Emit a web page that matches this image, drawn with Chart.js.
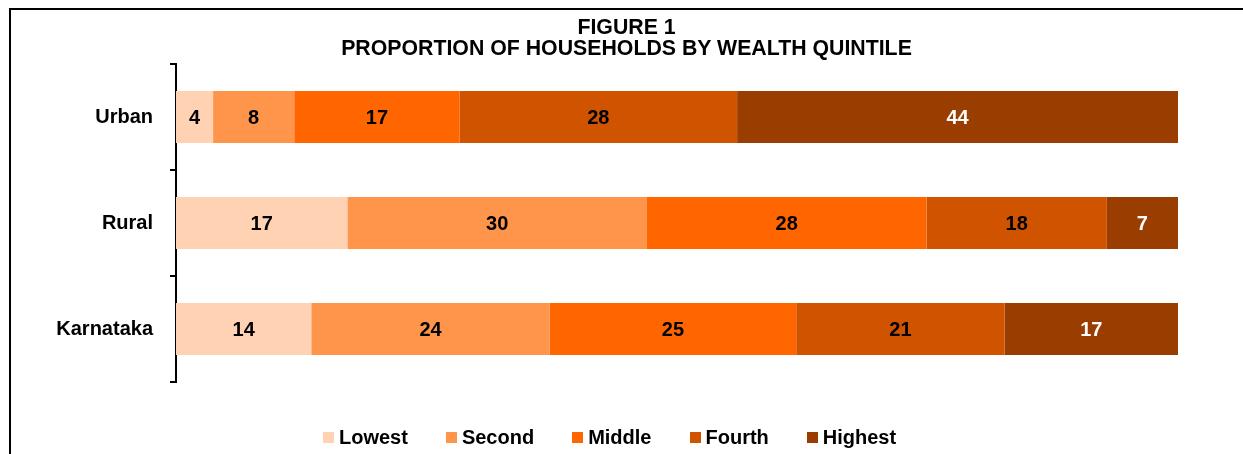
<!DOCTYPE html>
<html>
<head>
<meta charset="utf-8">
<script src="https://cdn.jsdelivr.net/npm/chart.js@4"></script>
<style>
  body { margin: 0; background: #fff; }
  #wrap { position: relative; width: 1243px; height: 454px; }
  #title {
    position: absolute; left: 10px; right: 0; top: 17px;
    text-align: center;
    font: bold 21.3px "Liberation Sans", Arial, sans-serif; color: #000;
    line-height: 21px;
  }
  #legend {
    position: absolute; left: 323px; top: 426px;
    display: flex; gap: 38px;
    font: bold 20px "Liberation Sans", Arial, sans-serif; color: #000;
  }
  .item { display: flex; align-items: center; }
  .box { width: 11px; height: 11px; margin-right: 5px; }
</style>
</head>
<body>
<div id="wrap">
  <canvas id="wealthChart" width="1243" height="454"></canvas>
  <div id="title">FIGURE 1<br>PROPORTION OF HOUSEHOLDS BY WEALTH QUINTILE</div>
  <div id="legend"></div>
</div>
<script>
const categories = ['Urban', 'Rural', 'Karnataka'];
const quintiles = ['Lowest', 'Second', 'Middle', 'Fourth', 'Highest'];

// percent of households, rows follow categories
const lowest  = [3.7, 17.1, 13.5];
const second  = [8.1, 29.9, 23.8];
const middle  = [16.5, 27.9, 24.6];
const fourth  = [27.7, 18.0, 20.8];
const highest = [44.0, 7.1, 17.3];

const colors = ['#FFD2B3', '#FF954A', '#FF6600', '#D05300', '#993D00'];
const labelColors = ['#000', '#000', '#000', '#000', '#fff'];

const FONT = '"Liberation Sans", Arial, sans-serif';
Chart.defaults.color = '#000';
Chart.defaults.font.family = FONT;

const series = [lowest, second, middle, fourth, highest];

// frame round the figure (top and left only)
const framePlugin = {
  id: 'frame',
  beforeDraw(chart) {
    const ctx = chart.ctx;
    ctx.save();
    ctx.strokeStyle = '#000';
    ctx.lineWidth = 2;
    ctx.beginPath();
    ctx.moveTo(10, 454);
    ctx.lineTo(10, 9);
    ctx.lineTo(1243, 9);
    ctx.stroke();
    ctx.restore();
  }
};

// rounded value in the middle of each segment
const valueLabels = {
  id: 'valueLabels',
  afterDatasetsDraw(chart) {
    const ctx = chart.ctx;
    ctx.save();
    ctx.font = 'bold 20px ' + FONT;
    ctx.textAlign = 'center';
    ctx.textBaseline = 'middle';
    chart.data.datasets.forEach((ds, i) => {
      const meta = chart.getDatasetMeta(i);
      ctx.fillStyle = labelColors[i];
      meta.data.forEach((bar, j) => {
        const p = bar.getCenterPoint();
        ctx.fillText(Math.round(ds.data[j]), p.x, p.y + 1);
      });
    });
    ctx.restore();
  }
};

const chart = new Chart(document.getElementById('wealthChart'), {
  type: 'bar',
  data: {
    labels: categories,
    datasets: quintiles.map((q, i) => ({
      label: q,
      data: series[i],
      backgroundColor: colors[i],
      borderWidth: 0,
      categoryPercentage: 1,
      barPercentage: 0.49
    }))
  },
  options: {
    indexAxis: 'y',
    responsive: false,
    animation: false,
    layout: { padding: { left: 10, right: 65, top: 64, bottom: 72 } },
    scales: {
      x: { stacked: true, display: false, min: 0, max: 100 },
      y: {
        stacked: true,
        border: { display: true, color: '#000', width: 2 },
        grid: { drawOnChartArea: false, color: '#000', lineWidth: 2, tickLength: 6, offset: true },
        ticks: { font: { size: 20, weight: 'bold' }, color: '#000', padding: 17 },
        afterFit(scale) { scale.width = 166; }
      }
    },
    plugins: {
      legend: { display: false },
      tooltip: { enabled: false },
      title: { display: false }
    }
  },
  plugins: [framePlugin, valueLabels]
});

// legend built from the datasets
const legend = document.getElementById('legend');
chart.data.datasets.forEach(ds => {
  const item = document.createElement('div');
  item.className = 'item';
  item.innerHTML = '<span class="box" style="background:' + ds.backgroundColor + '"></span>' + ds.label;
  legend.appendChild(item);
});
</script>
</body>
</html>
